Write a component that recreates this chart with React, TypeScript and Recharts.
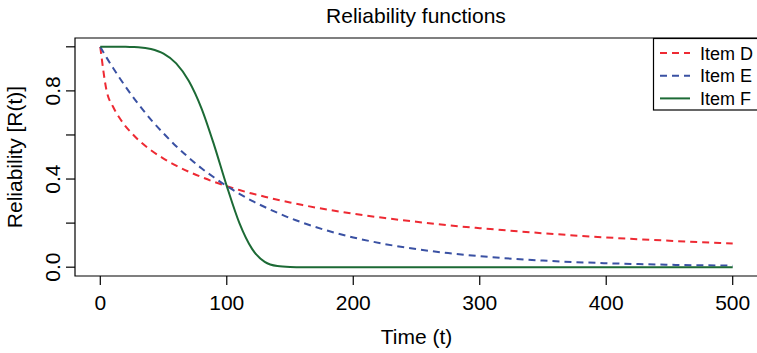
import { Legend, Line, LineChart, ReferenceArea, XAxis, YAxis } from "recharts";

// Weibull-like reliability curves
const times = [0, 5, 10, 15, 20, 25, 30, 40, 50, 60, 70, 80, 90, 100, 110, 120, 130, 140, 150, 160, 180, 200, 225, 250, 275, 300, 350, 400, 450, 500];
const itemD = [1, 0.8, 0.729, 0.679, 0.639, 0.607, 0.578, 0.531, 0.493, 0.461, 0.433, 0.409, 0.387, 0.368, 0.35, 0.334, 0.32, 0.306, 0.294, 0.282, 0.261, 0.243, 0.223, 0.206, 0.19, 0.177, 0.154, 0.135, 0.12, 0.107];
const itemE = [1, 0.951, 0.905, 0.861, 0.819, 0.779, 0.741, 0.67, 0.607, 0.549, 0.497, 0.449, 0.407, 0.368, 0.333, 0.301, 0.273, 0.247, 0.223, 0.202, 0.165, 0.135, 0.105, 0.082, 0.064, 0.05, 0.03, 0.018, 0.011, 0.007];
const itemF = [1, 1, 1, 1, 1, 0.999, 0.998, 0.99, 0.969, 0.925, 0.845, 0.721, 0.554, 0.368, 0.2, 0.083, 0.024, 0.005, 0.001, 0, 0, 0, 0, 0, 0, 0, 0, 0, 0, 0];

const xTicks = [0, 100, 200, 300, 400, 500];
const yTicks = [0, 0.2, 0.4, 0.6, 0.8, 1];
const yLabelled = [0, 0.4, 0.8];

const FONT = '"Liberation Sans", Arial, Helvetica, sans-serif';
const RED = "#ee2a33";
const BLUE = "#3a51a3";
const GREEN = "#1c6a35";
const DASH = "7 5";

const dashFor: Record<string, string | undefined> = { d: DASH, e: DASH, f: undefined };

const rows = times.map((t, i) => ({ t, d: itemD[i], e: itemE[i], f: itemF[i] }));

function XTick(props: any) {
  const { x, y, payload } = props;
  return (
    <text x={x} y={y + 23} textAnchor="middle" fontSize={21} fontFamily={FONT} fill="#000">
      {payload.value}
    </text>
  );
}

function YTick(props: any) {
  const { x, y, payload } = props;
  if (!yLabelled.some((v) => Math.abs(v - payload.value) < 1e-6)) return <g />;
  const tx = x - 4;
  return (
    <text x={tx} y={y} transform={`rotate(-90, ${tx}, ${y})`} textAnchor="middle" fontSize={21} fontFamily={FONT} fill="#000">
      {Number(payload.value).toFixed(1)}
    </text>
  );
}

function XLabel(props: any) {
  const vb = props.viewBox || {};
  return (
    <text x={vb.x + vb.width / 2} y={vb.y + 68} textAnchor="middle" fontSize={21} fontFamily={FONT} fill="#000">
      Time (t)
    </text>
  );
}

function YLabel(props: any) {
  const vb = props.viewBox || {};
  const lx = vb.x + 22;
  const ly = vb.y + vb.height / 2;
  return (
    <text x={lx} y={ly} transform={`rotate(-90, ${lx}, ${ly})`} textAnchor="middle" fontSize={21} fontFamily={FONT} fill="#000">
      Reliability [R(t)]
    </text>
  );
}

function LegendBox(props: any) {
  const items = props.payload || [];
  return (
    <svg width={110} height={73} style={{ display: "block", overflow: "visible" }}>
      <rect x={0.5} y={0.5} width={120} height={71.5} fill="#fff" stroke="#000" strokeWidth={1.2} />
      {items.map((it: any, i: number) => {
        const cy = 15 + i * 22.7;
        return (
          <g key={it.value}>
            <line x1={7} x2={37} y1={cy} y2={cy} stroke={it.color} strokeWidth={2} strokeDasharray={dashFor[it.dataKey]} />
            <text x={47} y={cy + 6.5} fontSize={18} fontFamily={FONT} fill="#000">
              {it.value}
            </text>
          </g>
        );
      })}
    </svg>
  );
}

export default function App() {
  return (
    <div style={{ position: "absolute", left: 0, top: 0, width: 757, height: 353, overflow: "hidden", background: "#fff", fontFamily: FONT }}>
      <div style={{ position: "absolute", left: 0, width: 832, top: 4, lineHeight: "24px", fontSize: 21, textAlign: "center", color: "#000" }}>
        Reliability functions
      </div>
      <div style={{ position: "absolute", left: 0, top: 0 }}>
        <LineChart width={760} height={353} data={rows} margin={{ top: 38, right: 2, bottom: 0, left: 0 }}>
          <XAxis
            dataKey="t"
            type="number"
            domain={[-20, 520]}
            ticks={xTicks}
            allowDataOverflow
            axisLine={false}
            tickLine={{ stroke: "#000", strokeWidth: 1.2 }}
            tickSize={9}
            height={77}
            tick={<XTick />}
            label={<XLabel />}
          />
          <YAxis
            type="number"
            domain={[-0.04, 1.04]}
            ticks={yTicks}
            allowDataOverflow
            axisLine={false}
            tickLine={{ stroke: "#000", strokeWidth: 1.2 }}
            tickSize={9}
            width={75}
            tick={<YTick />}
            label={<YLabel />}
          />
          <ReferenceArea x1={-20} x2={520} y1={-0.04} y2={1.04} fill="none" fillOpacity={0} stroke="#000" strokeWidth={1.2} ifOverflow="visible" />
          <Line type="monotone" dataKey="d" name="Item D" stroke={RED} strokeWidth={2} strokeDasharray={DASH} dot={false} isAnimationActive={false} />
          <Line type="monotone" dataKey="e" name="Item E" stroke={BLUE} strokeWidth={2} strokeDasharray={DASH} dot={false} isAnimationActive={false} />
          <Line type="monotone" dataKey="f" name="Item F" stroke={GREEN} strokeWidth={2} dot={false} isAnimationActive={false} />
          <Legend
            content={<LegendBox />}
            wrapperStyle={{ position: "absolute", left: 653, top: 38, width: 0, height: 0, overflow: "visible", right: "auto", bottom: "auto" }}
          />
        </LineChart>
      </div>
    </div>
  );
}
